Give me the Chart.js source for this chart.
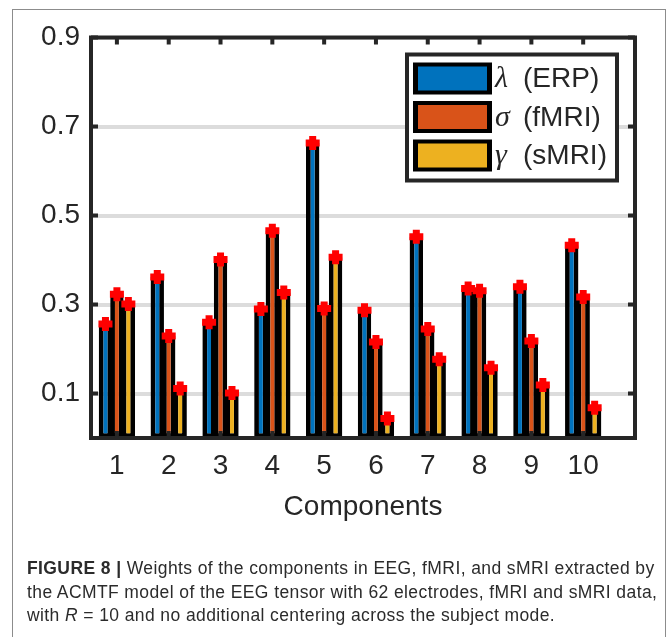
<!DOCTYPE html>
<html>
<head>
<meta charset="utf-8">
<script src="https://cdn.jsdelivr.net/npm/chart.js@4.4.0/dist/chart.umd.min.js"></script>
<style>
  html, body { margin: 0; padding: 0; background: #fff; }
  #wrap { position: relative; width: 670px; height: 637px; overflow: hidden; }
  #frame { position: absolute; left: 12px; top: 9px; width: 654px; height: 700px;
           border: 1px solid #8c8c8c; box-sizing: border-box; }
  #chart { position: absolute; left: 0; top: 0; }
  #caption { position: absolute; left: 27px; top: 557px; color: #2b2b2b; white-space: nowrap;
             font: 17.5px/23.5px "Liberation Sans", Arial, sans-serif; letter-spacing: 0.4px; }
</style>
</head>
<body>
<div id="wrap">
  <div id="frame"></div>
  <canvas id="chart" width="670" height="637"></canvas>
  <div id="caption"><b>FIGURE 8 |</b> Weights of the components in EEG, fMRI, and sMRI extracted by<br>the ACMTF model of the EEG tensor with 62 electrodes, fMRI and sMRI data,<br>with <i>R</i> = 10 and no additional centering across the subject mode.</div>
</div>
<script>
// values
const components = [1, 2, 3, 4, 5, 6, 7, 8, 9, 10];
const erpWeights  = [0.256, 0.362, 0.260, 0.290, 0.663, 0.287, 0.452, 0.336, 0.340, 0.433];
const fmriWeights = [0.323, 0.229, 0.401, 0.466, 0.291, 0.216, 0.245, 0.331, 0.218, 0.317];
const smriWeights = [0.301, 0.111, 0.101, 0.327, 0.406, 0.044, 0.177, 0.158, 0.119, 0.068];
const yTicks = [0.1, 0.3, 0.5, 0.7, 0.9];
const greek = ['λ', 'σ', 'γ'];
const modality = ['(ERP)', '(fMRI)', '(sMRI)'];
const colors = ['#0072BD', '#D95319', '#EDB120'];

Chart.defaults.font.family = '"Liberation Sans", Arial, sans-serif';
Chart.defaults.color = '#262626';

function toPoints(vals) {
    return components.map((c, i) => ({ x: c, y: vals[i] }));
}

const axisColor = '#262626';

// red + markers on bar tops, the axes box with inner ticks, and the legend
const decorations = {
    id: 'decorations',
    afterDatasetsDraw(chart) {
        const ctx = chart.ctx;
        const ca = chart.chartArea;
        const xs = chart.scales.x, ys = chart.scales.y;

        ctx.save();
        // markers
        ctx.strokeStyle = '#ff0000';
        ctx.lineWidth = 7;
        chart.data.datasets.forEach((ds, di) => {
            chart.getDatasetMeta(di).data.forEach(bar => {
                ctx.beginPath();
                ctx.moveTo(bar.x - 7, bar.y);
                ctx.lineTo(bar.x + 7, bar.y);
                ctx.moveTo(bar.x, bar.y - 7);
                ctx.lineTo(bar.x, bar.y + 7);
                ctx.stroke();
            });
        });

        // box
        ctx.strokeStyle = axisColor;
        ctx.lineWidth = 4;
        ctx.strokeRect(ca.left, ca.top, ca.right - ca.left, ca.bottom - ca.top);
        ctx.beginPath();
        components.forEach(c => {
            const px = xs.getPixelForValue(c);
            ctx.moveTo(px, ca.top);
            ctx.lineTo(px, ca.top + 7);
            ctx.moveTo(px, ca.bottom);
            ctx.lineTo(px, ca.bottom - 7);
        });
        yTicks.forEach(v => {
            const py = ys.getPixelForValue(v);
            ctx.moveTo(ca.left, py);
            ctx.lineTo(ca.left + 7, py);
            ctx.moveTo(ca.right, py);
            ctx.lineTo(ca.right - 7, py);
        });
        ctx.stroke();

        // legend
        const lw = 210, lh = 126;
        const lx = ca.right - 18 - lw, ly = ca.top + 17;
        ctx.fillStyle = '#fff';
        ctx.fillRect(lx, ly, lw, lh);
        ctx.strokeRect(lx, ly, lw, lh);
        chart.data.datasets.forEach((ds, i) => {
            const ry = ly + 8 + i * 38.5;
            ctx.fillStyle = '#000';
            ctx.fillRect(lx + 6, ry, 79, 32);
            ctx.fillStyle = ds.backgroundColor;
            ctx.fillRect(lx + 11, ry + 4, 69, 24);
            ctx.fillStyle = axisColor;
            ctx.textBaseline = 'middle';
            ctx.textAlign = 'left';
            ctx.font = 'italic 30px "Liberation Serif", serif';
            ctx.fillText(greek[i], lx + 88, ry + 17);
            ctx.font = '28px "Liberation Sans", Arial, sans-serif';
            ctx.fillText(modality[i], lx + 116, ry + 17);
        });
        ctx.restore();
    }
};

const barStyle = {
    borderColor: '#000',
    borderWidth: 4.75,
    borderSkipped: false,
    categoryPercentage: 0.663,
    barPercentage: 1.17
};

new Chart(document.getElementById('chart'), {
    type: 'bar',
    data: {
        datasets: [
            Object.assign({ label: 'λ (ERP)', data: toPoints(erpWeights), backgroundColor: colors[0] }, barStyle),
            Object.assign({ label: 'σ (fMRI)', data: toPoints(fmriWeights), backgroundColor: colors[1] }, barStyle),
            Object.assign({ label: 'γ (sMRI)', data: toPoints(smriWeights), backgroundColor: colors[2] }, barStyle)
        ]
    },
    options: {
        responsive: false,
        animation: false,
        devicePixelRatio: 1,
        layout: { padding: { left: 0, top: 37.5, right: 35, bottom: 99 } },
        plugins: { legend: { display: false }, tooltip: { enabled: false } },
        scales: {
            x: {
                type: 'linear',
                min: 0.5,
                max: 11,
                offset: false,
                afterBuildTicks: s => { s.ticks = components.map(v => ({ value: v })); },
                afterFit: s => { s.height = 100; },
                grid: { display: false, drawTicks: false },
                border: { display: false },
                ticks: { font: { size: 28 }, padding: 11, maxRotation: 0, autoSkip: false,
                         callback: v => String(v) },
                title: { display: true, text: 'Components', font: { size: 28 },
                         padding: { top: 0, bottom: 14 } }
            },
            y: {
                min: 0,
                max: 0.9,
                afterBuildTicks: s => { s.ticks = yTicks.map(v => ({ value: v })); },
                afterFit: s => { s.width = 91; },
                grid: { color: '#dcdcdc', lineWidth: 4, drawTicks: false },
                border: { display: false },
                ticks: { font: { size: 28 }, padding: 11, callback: v => v.toFixed(1) }
            }
        }
    },
    plugins: [decorations]
});
</script>
</body>
</html>
